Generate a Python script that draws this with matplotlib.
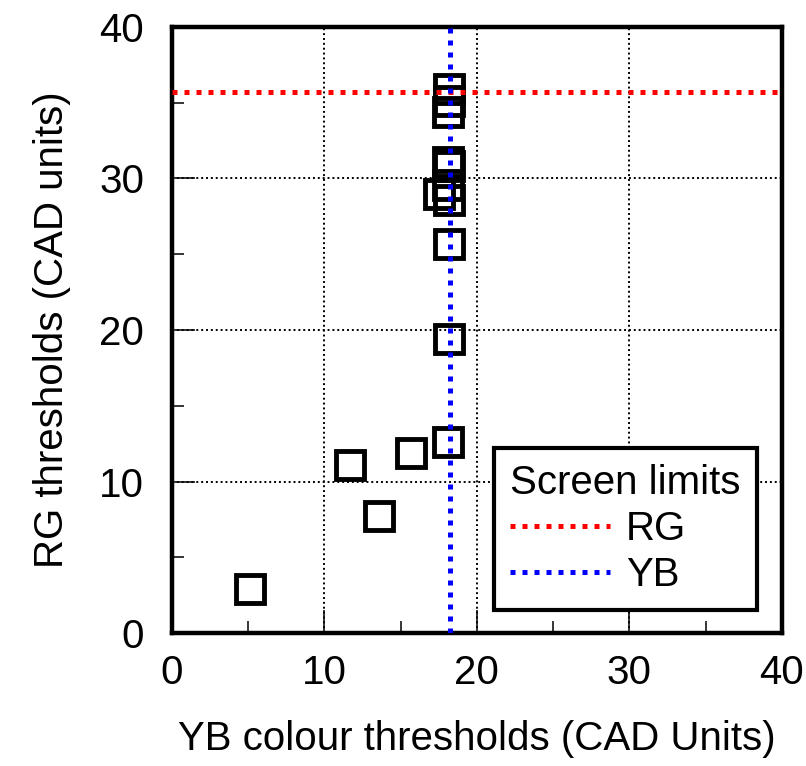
import matplotlib
matplotlib.use("Agg")
import matplotlib.pyplot as plt
from matplotlib.ticker import MultipleLocator

plt.rcParams['font.family'] = ['Liberation Sans', 'DejaVu Sans']

yb_thresholds = [5.1, 11.7, 13.6, 15.7, 18.1, 18.2, 18.2, 17.5, 18.1, 18.2, 18.1, 18.2, 18.1, 18.2, 18.2]
rg_thresholds = [2.9, 11.1, 7.7, 11.9, 12.6, 19.4, 25.7, 29.0, 29.6, 28.6, 31.1, 30.8, 34.4, 35.1, 35.9]
rg_limit = 35.7
yb_limit = 18.25
legend_title = "Screen limits"
limit_labels = ["RG", "YB"]

FS = 29

fig = plt.figure(figsize=(8.06, 7.66), dpi=100)
ax = fig.add_axes([0.2134, 0.1736, 0.7566, 0.7912])

ax.plot(yb_thresholds, rg_thresholds, linestyle='none', marker='s', markersize=19.5,
        markerfacecolor='none', markeredgecolor='black', markeredgewidth=3.5, zorder=3)

dash = (0, (1, 1.4))
ax.axhline(rg_limit, color='#ff0000', linewidth=3.6, linestyle=dash,
           dash_capstyle='butt', label=limit_labels[0], zorder=4)
ax.axvline(yb_limit, color='#0000ff', linewidth=3.6, linestyle=dash,
           dash_capstyle='butt', label=limit_labels[1], zorder=4)

ax.set_xlim(0, 40)
ax.set_ylim(0, 40)
ax.xaxis.set_major_locator(MultipleLocator(10))
ax.yaxis.set_major_locator(MultipleLocator(10))
ax.xaxis.set_minor_locator(MultipleLocator(5))
ax.yaxis.set_minor_locator(MultipleLocator(5))
ax.grid(True, which='major', color='black', linestyle=(0, (1, 1.5)), linewidth=1.4)

ax.tick_params(which='major', direction='in', length=16.5, width=1.1, labelsize=FS,
               top=False, right=False)
ax.tick_params(axis='x', which='major', pad=15)
ax.tick_params(axis='y', which='major', pad=20)
ax.tick_params(which='minor', direction='in', length=8.5, width=1.1, top=False, right=False)

for s in ax.spines.values():
    s.set_linewidth(3.2)

ax.set_xlabel("YB colour thresholds (CAD Units)", fontsize=FS, labelpad=20)
ax.set_ylabel("RG thresholds (CAD units)", fontsize=FS, labelpad=20)

leg = ax.legend(title=legend_title, loc='lower right', bbox_to_anchor=(0.959, 0.038),
                borderaxespad=0, fontsize=FS, title_fontsize=FS, handlelength=2.48,
                handletextpad=0.4, labelspacing=0.2, borderpad=0.4, fancybox=False,
                framealpha=1, edgecolor='black')
leg.get_frame().set_linewidth(3.0)
leg._legend_box.align = "left"

fig.savefig("out.png", dpi=100)
